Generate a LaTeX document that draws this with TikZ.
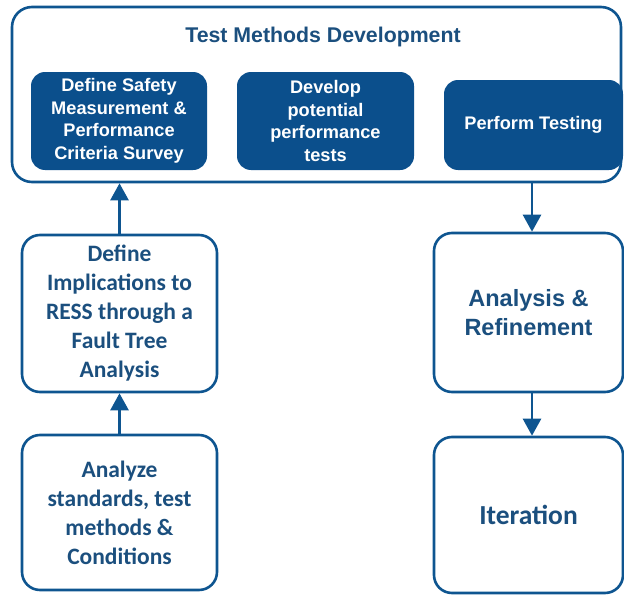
\documentclass[tikz,border=0pt]{standalone}
\usepackage{fontspec}
\usetikzlibrary{arrows.meta}
\newfontfamily\arialfont{Liberation Sans}
\newfontfamily\califont{Carlito}
\definecolor{edgeblue}{HTML}{0E5590}
\definecolor{fillblue}{HTML}{0B4F8C}
\definecolor{txtblue}{HTML}{1B4F7E}
\tikzset{
  outerbox/.style={draw=edgeblue, line width=2.6pt, rounded corners=20pt, fill=white},
  fillbox/.style={fill=fillblue, rounded corners=14pt, text=white, align=center,
     font=\arialfont\bfseries\fontsize{18.2}{22.5}\selectfont, inner sep=0pt},
  linebox/.style={draw=edgeblue, line width=2.6pt, rounded corners=18pt, fill=white,
     text=txtblue, align=center, font=\califont\bfseries\fontsize{23.5}{29}\selectfont, inner sep=0pt},
  arr/.style={draw=edgeblue, line width=2.6pt, -{Triangle[width=18pt,length=17pt]}}
}
\begin{document}
\begin{tikzpicture}[x=1pt,y=-1pt]
\useasboundingbox (0,0) rectangle (624,597);
\node[outerbox, minimum width=609pt, minimum height=175pt] (outer) at (316.5,94.5) {};
\node[text=txtblue, font=\arialfont\bfseries\fontsize{21.3}{24}\selectfont] (title) at (323,37) {Test Methods Development};
\node[fillbox, minimum width=176pt, minimum height=98pt] (safety) at (119,121)
  {Define Safety\\Measurement \&\\Performance\\Criteria Survey};
\node[fillbox, minimum width=177pt, minimum height=98pt] (develop) at (325.5,121)
  {Develop\\potential\\performance\\tests};
\node[fillbox, minimum width=179pt, minimum height=90pt] (perform) at (533.5,125)
  {Perform Testing};
\node[linebox, minimum width=195pt, minimum height=157pt] (impl) at (119.5,313.5)
  {Define\\Implications to\\RESS through a\\Fault Tree\\Analysis};
\node[linebox, minimum width=195pt, minimum height=155pt] (analyze) at (119.5,512.5)
  {Analyze\\standards, test\\methods \&\\Conditions};
\node[linebox, minimum width=189pt, minimum height=159pt, font=\arialfont\bfseries\fontsize{23.5}{29}\selectfont] (refine) at (528.5,312.5)
  {Analysis \&\\Refinement};
\node[linebox, minimum width=189pt, minimum height=156pt, font=\califont\bfseries\fontsize{27.5}{29}\selectfont] (iter) at (528.5,515)
  {Iteration};
\draw[arr] (impl.north) -- (impl.north |- outer.south);
\draw[arr] (analyze.north) -- (impl.south);
\draw[arr] ([xshift=3.5pt]refine.north |- outer.south) -- ([xshift=3.5pt]refine.north);
\draw[arr] ([xshift=3.5pt]refine.south) -- ([xshift=3.5pt]iter.north);
\end{tikzpicture}
\end{document}
